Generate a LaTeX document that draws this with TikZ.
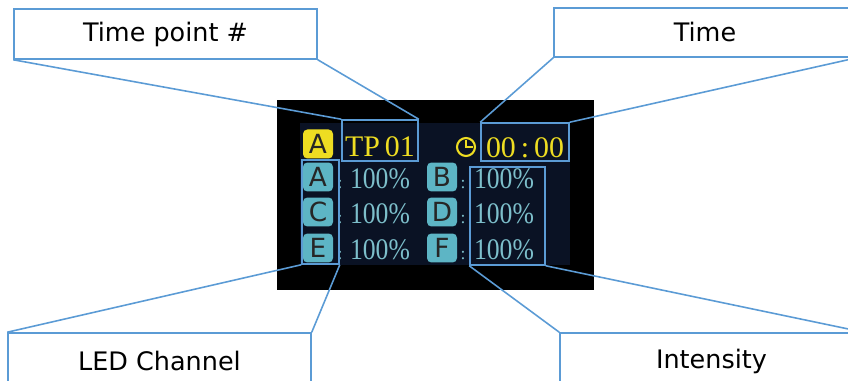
\documentclass[tikz,border=0pt]{standalone}
\usepackage{fontspec}
\usepackage{graphicx}
\setmainfont{DejaVu Sans}
\newfontfamily\lcdfont{Liberation Serif}
\usetikzlibrary{positioning}
\definecolor{callblue}{HTML}{5B9BD5}
\definecolor{lcdnavy}{HTML}{0A1224}
\definecolor{lcdyellow}{HTML}{EEDD22}
\definecolor{lcdteal}{HTML}{7DBFCB}
\definecolor{badgeteal}{HTML}{5DB5C5}
\newcommand\narrowtext[1]{\scalebox{0.86}[1]{#1}}

\begin{document}
\begin{tikzpicture}[x=0.02cm,y=-0.02cm,
		callout/.style={draw=callblue,line width=0.9pt,fill=white,minimum width=6.06cm,minimum height=1cm,inner sep=0pt,font=\fontsize{14.5}{16}\selectfont},
		markbox/.style={draw=callblue,line width=0.9pt,inner sep=0pt},
		link/.style={callblue,line width=0.9pt},
		badge/.style={rounded corners=2.5pt,minimum width=0.6cm,minimum height=0.58cm,inner sep=0pt,text=black!85,font=\fontsize{15}{15}\selectfont},
		lcd/.style={font=\lcdfont\fontsize{17}{17}\selectfont,inner sep=0pt,anchor=base}]
			\clip (0,0) rectangle (848,381);
			% screen
			\fill[black] (277,100) rectangle (594,290);
			\fill[lcdnavy] (300,123) rectangle (570,265);
			\node[badge,fill=lcdyellow] (ya) at (318,144) {A};
			\node[lcd,text=lcdyellow] (tp) at (380,157) {TP\,01};
			\node[circle,draw=lcdyellow,line width=1.2pt,minimum size=0.36cm,inner sep=0pt] (clock) at (466,147) {};
			\draw[lcdyellow,line width=1.2pt] (466,140) -- (clock.center) -- (473,147);
			\node[lcd,text=lcdyellow] (tm) at (525,158) {00\,:\,00};
			\foreach \l/\r/\y [count=\i] in {A/B/177,C/D/212,E/F/248} {
				\node[badge,fill=badgeteal] (l\i) at (318,\y) {\l};
				\node[badge,fill=badgeteal] (r\i) at (442,\y) {\r};
				\node[lcd,text=lcdteal,font=\lcdfont\fontsize{10}{10}\selectfont] at (340,\y+12) {:};
				\node[lcd,text=lcdteal,font=\lcdfont\fontsize{10}{10}\selectfont] at (463,\y+12) {:};
				\node[lcd,text=lcdteal] (pl\i) at (380,\y+12) {\narrowtext{100\%}};
				\node[lcd,text=lcdteal] (pr\i) at (504,\y+12) {\narrowtext{100\%}};
			}
			% marked parts
			\node[markbox,minimum width=1.52cm,minimum height=0.82cm] (tpbox) at (380,140.5) {};
			\node[markbox,minimum width=1.76cm,minimum height=0.76cm] (timebox) at (525,142) {};
			\node[markbox,minimum width=0.74cm,minimum height=2.08cm] (chbox) at (320.5,212) {};
			\node[markbox,minimum width=1.5cm,minimum height=1.96cm] (pctbox) at (507.5,216) {};
			% callouts
			\node[callout] (tpnum) at (165.5,34) {Time point \#};
			\node[callout,minimum width=6.04cm,minimum height=0.98cm] (time) at (705,32.5) {Time};
			\node[callout,minimum height=1.12cm] (channel) at (159.5,361) {LED Channel};
			\node[callout,minimum height=1.12cm] (level) at (711.5,361) {Intensity};
			\draw[link] (tpnum.south west) -- (tpbox.north west);
			\draw[link] (tpnum.south east) -- (tpbox.north east);
			\draw[link] (time.south west) -- (timebox.north west);
			\draw[link] (time.south east) -- (timebox.north east);
			\draw[link] (channel.north west) -- (chbox.south west);
			\draw[link] (channel.north east) -- (chbox.south east);
			\draw[link] (level.north west) -- (pctbox.south west);
			\draw[link] (level.north east) -- (pctbox.south east);
		\end{tikzpicture}
\end{document}
